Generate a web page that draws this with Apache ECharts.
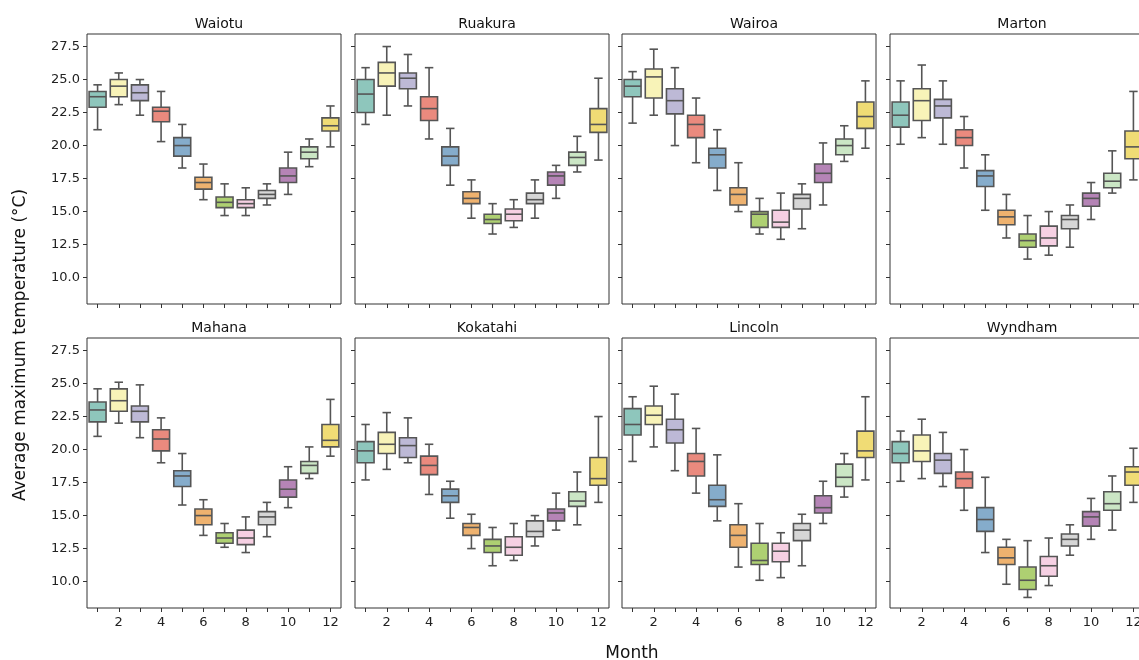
<!DOCTYPE html>
<html>
<head>
<meta charset="utf-8">
<script src="https://cdn.jsdelivr.net/npm/echarts@6/dist/echarts.min.js"></script>
<style>html,body{margin:0;padding:0;background:#fff;}#chart{width:1139px;height:660px;}</style>
</head>
<body>
<div id="chart"></div>
<script>
// Months (categories)
const months = ['1','2','3','4','5','6','7','8','9','10','11','12'];
const stations = ['Waiotu','Ruakura','Wairoa','Marton','Mahana','Kokatahi','Lincoln','Wyndham'];
const yTicks = [10.0, 12.5, 15.0, 17.5, 20.0, 22.5, 25.0, 27.5];
// each month: [lower whisker, Q1, median, Q3, upper whisker]
const waiotu = [[21.2,22.9,23.7,24.1,24.6],[23.1,23.7,24.5,25.0,25.5],[22.3,23.4,24.0,24.6,25.0],[20.3,21.8,22.6,22.9,24.1],[18.3,19.2,20.0,20.6,21.6],[15.9,16.7,17.2,17.6,18.6],[14.7,15.3,15.7,16.1,17.1],[14.7,15.3,15.6,15.9,16.8],[15.5,16.0,16.3,16.6,17.1],[16.3,17.2,17.7,18.3,19.5],[18.4,19.0,19.5,19.9,20.5],[19.9,21.1,21.5,22.1,23.0]];
const ruakura = [[21.6,22.5,23.9,25.0,25.9],[22.3,24.5,25.5,26.3,27.5],[23.0,24.3,25.1,25.5,26.9],[20.5,21.9,22.8,23.7,25.9],[17.0,18.5,19.2,19.9,21.3],[14.5,15.6,16.0,16.5,17.4],[13.3,14.1,14.4,14.8,15.6],[13.8,14.3,14.8,15.2,15.9],[14.5,15.6,15.9,16.4,17.4],[16.0,17.0,17.7,18.0,18.5],[18.0,18.5,19.1,19.5,20.7],[18.9,21.0,21.6,22.8,25.1]];
const wairoa = [[21.7,23.7,24.5,25.0,25.6],[22.3,23.6,25.2,25.8,27.3],[20.0,22.4,23.4,24.3,25.9],[18.7,20.6,21.6,22.3,23.6],[16.6,18.3,19.3,19.8,21.2],[15.0,15.5,16.3,16.8,18.7],[13.3,13.8,14.8,15.0,16.0],[12.9,13.8,14.2,15.1,16.4],[13.7,15.2,16.0,16.3,17.1],[15.5,17.2,17.9,18.6,20.2],[18.8,19.3,20.0,20.5,21.5],[19.8,21.3,22.2,23.3,24.9]];
const marton = [[20.1,21.4,22.3,23.3,24.9],[20.6,21.9,23.4,24.3,26.1],[20.1,22.1,23.0,23.5,24.9],[18.3,20.0,20.6,21.2,22.2],[15.1,16.9,17.7,18.1,19.3],[13.0,14.0,14.6,15.1,16.3],[11.4,12.3,12.8,13.3,14.7],[11.7,12.4,13.0,13.9,15.0],[12.3,13.7,14.4,14.7,15.5],[14.4,15.4,16.0,16.4,17.2],[16.4,16.8,17.3,17.9,19.6],[17.4,19.0,19.9,21.1,24.1]];
const mahana = [[21.0,22.1,23.0,23.6,24.6],[22.0,22.9,23.7,24.6,25.1],[20.9,22.1,22.9,23.3,24.9],[19.0,19.9,20.8,21.5,22.4],[15.8,17.2,18.0,18.4,19.7],[13.5,14.3,15.0,15.5,16.2],[12.6,12.9,13.3,13.7,14.4],[12.2,12.8,13.3,13.9,14.9],[13.4,14.3,14.9,15.3,16.0],[15.6,16.4,17.0,17.7,18.7],[17.8,18.2,18.8,19.1,20.2],[19.5,20.2,20.7,21.9,23.8]];
const kokatahi = [[17.7,19.0,19.9,20.6,21.9],[18.5,19.7,20.4,21.3,22.8],[19.0,19.4,20.3,20.9,22.4],[16.6,18.1,18.8,19.5,20.4],[14.8,16.0,16.5,17.0,17.6],[12.5,13.5,14.1,14.4,15.1],[11.2,12.2,12.7,13.2,14.1],[11.6,12.0,12.6,13.4,14.4],[12.7,13.4,13.8,14.6,15.0],[13.9,14.6,15.2,15.5,16.7],[14.3,15.7,16.1,16.8,18.3],[16.0,17.3,17.8,19.4,22.5]];
const lincoln = [[19.1,21.1,21.9,23.1,24.0],[20.2,21.9,22.6,23.3,24.8],[18.4,20.5,21.5,22.3,24.2],[16.7,18.0,19.1,19.7,21.6],[14.6,15.7,16.2,17.3,19.6],[11.1,12.6,13.5,14.3,15.9],[10.1,11.3,11.6,12.9,14.4],[10.3,11.5,12.3,12.9,13.7],[11.2,13.1,13.9,14.4,15.1],[14.4,15.2,15.6,16.5,17.6],[16.4,17.2,17.9,18.9,19.7],[17.7,19.4,19.9,21.4,24.0]];
const wyndham = [[17.6,19.0,19.7,20.6,21.4],[17.8,19.1,19.9,21.1,22.3],[17.2,18.2,19.2,19.7,21.3],[15.4,17.1,17.8,18.3,20.0],[12.2,13.8,14.7,15.6,17.9],[9.8,11.3,11.8,12.6,13.2],[8.8,9.4,10.1,11.1,13.1],[9.7,10.4,11.2,11.9,13.3],[12.0,12.7,13.2,13.6,14.3],[13.2,14.2,14.9,15.3,16.3],[13.9,15.4,15.9,16.8,18.0],[16.0,17.3,18.3,18.7,20.1]];
const stationData = [waiotu, ruakura, wairoa, marton, mahana, kokatahi, lincoln, wyndham];
// desaturated Set3 palette
const boxColors = ['#8ec6bc','#f8f3b8','#bdb9d6','#ea8a7e','#85accb','#eeb26f','#aed072','#f6d0e3','#d6d6d6','#b584b6','#cbe6c5','#f0dc75'];

const lefts = [87, 355, 622, 890];
const tops = [34, 338];
const gw = 254, gh = 270;
const lineColor = '#555555';
const font = 'DejaVu Sans';

const grids = [], xAxes = [], yAxes = [], series = [], titles = [];
stations.forEach((name, i) => {
  const r = Math.floor(i / 4), c = i % 4;
  grids.push({left: lefts[c], top: tops[r], width: gw, height: gh, show: true, borderColor: '#333', borderWidth: 1,
    backgroundColor: 'transparent', outerBoundsMode: 'none', containLabel: false});
  titles.push({text: name, left: lefts[c] + gw / 2, top: tops[r] - 22, textAlign: 'center',
    textStyle: {fontFamily: font, fontSize: 14, fontWeight: 'normal', color: '#111'}});
  xAxes.push({type: 'category', gridIndex: i, data: months, boundaryGap: true,
    axisLine: {show: false}, splitLine: {show: false},
    axisTick: {show: true, alignWithLabel: true, interval: 0, length: 4, lineStyle: {color: '#333'}},
    axisLabel: {show: r === 1, interval: (idx) => idx % 2 === 1, fontFamily: font, fontSize: 13, color: '#222', margin: 8}});
  yAxes.push({type: 'value', gridIndex: i, min: 8.0, max: 28.45,
    axisLine: {show: false}, splitLine: {show: false},
    axisTick: {show: true, customValues: yTicks, length: 4, lineStyle: {color: '#333'}},
    axisLabel: {show: c === 0, customValues: yTicks, formatter: (v) => v.toFixed(1), fontFamily: font, fontSize: 13, color: '#222', margin: 7}});
  const data = stationData[i].map((d, m) => [m, d[0], d[1], d[2], d[3], d[4]]);
  series.push({type: 'custom', xAxisIndex: i, yAxisIndex: i, data: data, clip: false,
    encode: {x: 0, y: [1, 2, 3, 4, 5]},
    renderItem: (params, api) => {
      const xi = api.value(0);
      const lo = api.coord([xi, api.value(1)]);
      const q1 = api.coord([xi, api.value(2)]);
      const md = api.coord([xi, api.value(3)]);
      const q3 = api.coord([xi, api.value(4)]);
      const hi = api.coord([xi, api.value(5)]);
      const band = api.size([1, 0])[0];
      const bw = band * 0.8, cw = bw * 0.5;
      const cx = lo[0];
      const ls = {stroke: lineColor, lineWidth: 1.6};
      return {type: 'group', children: [
        {type: 'line', shape: {x1: cx, y1: lo[1], x2: cx, y2: q1[1]}, style: ls},
        {type: 'line', shape: {x1: cx, y1: q3[1], x2: cx, y2: hi[1]}, style: ls},
        {type: 'line', shape: {x1: cx - cw / 2, y1: lo[1], x2: cx + cw / 2, y2: lo[1]}, style: ls},
        {type: 'line', shape: {x1: cx - cw / 2, y1: hi[1], x2: cx + cw / 2, y2: hi[1]}, style: ls},
        {type: 'rect', shape: {x: cx - bw / 2, y: q3[1], width: bw, height: q1[1] - q3[1]},
          style: {fill: boxColors[params.dataIndex], stroke: lineColor, lineWidth: 1.6}},
        {type: 'line', shape: {x1: cx - bw / 2, y1: md[1], x2: cx + bw / 2, y2: md[1]}, style: ls}
      ]};
    }
  });
});

titles.push({text: 'Month', left: 627, top: 640, textAlign: 'center',
  textStyle: {fontFamily: font, fontSize: 17, fontWeight: 'normal', color: '#111'}});

const chart = echarts.init(document.getElementById('chart'), null, {renderer: 'canvas'});
chart.setOption({
  animation: false,
  backgroundColor: '#fff',
  title: titles,
  grid: grids,
  xAxis: xAxes,
  yAxis: yAxes,
  series: series,
  graphic: [{type: 'text', x: 21, y: 345, rotation: Math.PI / 2,
    style: {text: 'Average maximum temperature (°C)', fontFamily: font, fontSize: 17, fill: '#111',
      textAlign: 'center', textVerticalAlign: 'middle'}}]
});
</script>
</body>
</html>
